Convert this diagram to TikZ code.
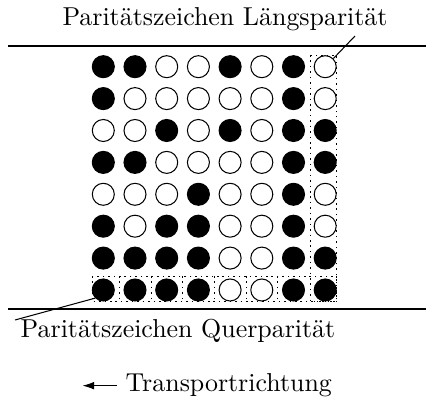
\documentclass[tikz,border=0pt]{standalone}
\usepackage{fontspec}
\usetikzlibrary{arrows.meta}
\begin{document}
\begin{tikzpicture}[x=0.386pt,y=-0.386pt,
  bit0/.style={circle,draw,inner sep=0pt,minimum size=8.5pt},
  bit1/.style={bit0,fill=black},
  rahmen/.style={dash pattern=on 0.6pt off 1.5pt,line width=0.3pt}]
% Paritätsprüfung auf dem Magnetband
\useasboundingbox (0,0) rectangle (426,398);
\draw (8,46) -- (426,46);
\draw (8,309) -- (426,309);
\foreach \row/\bits in {1/{1,1,0,0,1,0,1,0},2/{1,0,0,0,0,0,1,0},
    3/{0,0,1,0,1,0,1,1},4/{1,1,0,0,0,0,1,1},5/{0,0,0,1,0,0,1,0},
    6/{1,0,1,1,0,0,1,0},7/{1,1,1,1,0,0,1,1},8/{1,1,1,1,0,0,1,1}}
  \foreach \b [count=\col] in \bits
    \node[bit\b] (c\row\col) at ({103.3+(\col-1)*31.7},{66.7+(\row-1)*31.9}) {};
\draw[rahmen] (310,55) rectangle (336.5,301.5);
\draw[rahmen] (92,276) rectangle (336.5,301.5);
\foreach \i in {1,...,6}
  \draw[rahmen] ({119.2+(\i-1)*31.7},276) -- ({119.2+(\i-1)*31.7},301.5);
\node[anchor=base] (laengs) at (225,26) {Paritätszeichen Längsparität};
\node[anchor=base] (quer) at (178,338) {Paritätszeichen Querparität};
\node[anchor=base west] (tr) at (116.5,392) {Transportrichtung};
\coordinate (lp) at (355,36);
\coordinate (qp) at (15,320);
\draw (lp) -- (c18.north east);
\draw (qp) -- (c81.south west);
\draw[-{Latex[length=4.5pt,width=3pt]}] (tr.west) -- ++(-34,0);
\end{tikzpicture}
\end{document}
